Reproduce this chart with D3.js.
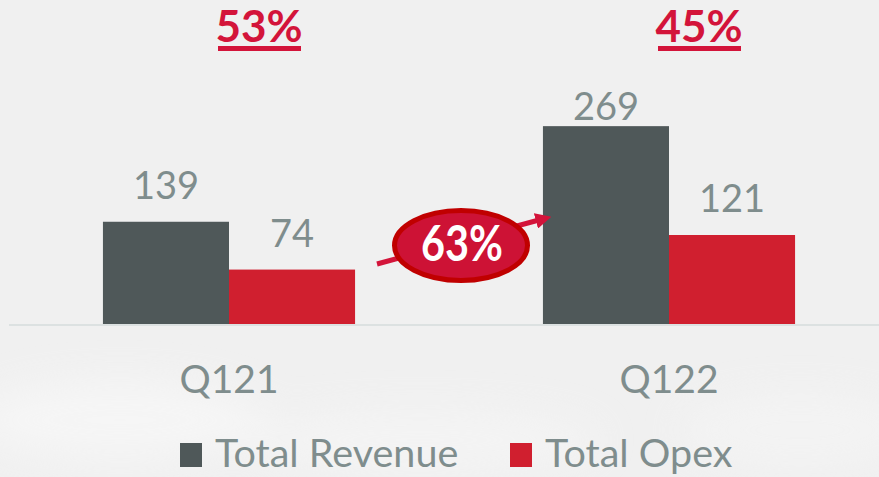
<!DOCTYPE html>
<html>
<head>
<meta charset="utf-8">
<script src="https://cdn.jsdelivr.net/npm/d3@7"></script>
<style>
  html, body { margin: 0; padding: 0; background: #f0f0f0; }
  svg { display: block; font-family: Lato, "Open Sans", sans-serif; }
</style>
</head>
<body>
<svg id="chart" width="879" height="477"></svg>
<script>
// Quarterly revenue vs operating expense
const quarters = ["Q121", "Q122"];
const seriesNames = ["Total Revenue", "Total Opex"];
const revenue = [139, 269];
const opex = [74, 121];
const opexRatio = ["53%", "45%"];     // opex as share of revenue per quarter
const revenueGrowth = "63%";          // year-over-year revenue growth

const colors = { "Total Revenue": "#4f5859", "Total Opex": "#d01f2f" };
const textGray = "#7f8d8d";
const accentRed = "#d3143a";

const W = 879, H = 477;
const svg = d3.select("#chart");

svg.append("rect").attr("width", W).attr("height", H).attr("fill", "#f0f0f0");

// soft lighter haze near the bottom of the backdrop
const defs = svg.append("defs");
const blur = defs.append("filter").attr("id", "haze").attr("x", "-50%").attr("y", "-50%")
  .attr("width", "200%").attr("height", "200%");
blur.append("feGaussianBlur").attr("stdDeviation", 18);
const haze = svg.append("g").attr("filter", "url(#haze)").attr("opacity", 0.55);
haze.append("ellipse").attr("cx", 120).attr("cy", 420).attr("rx", 150).attr("ry", 40).attr("fill", "#fafafa");
haze.append("ellipse").attr("cx", 420).attr("cy", 440).attr("rx", 180).attr("ry", 30).attr("fill", "#f7f7f7");
haze.append("ellipse").attr("cx", 800).attr("cy", 430).attr("rx", 120).attr("ry", 35).attr("fill", "#f6f6f6");

const data = quarters.map((q, i) => ({
  quarter: q,
  values: [
    { name: seriesNames[0], value: revenue[i] },
    { name: seriesNames[1], value: opex[i] }
  ]
}));

const x0 = d3.scaleBand().domain(quarters).range([9, 889]).paddingInner(0.427).paddingOuter(0.2135);
const x1 = d3.scaleBand().domain(seriesNames).range([0, x0.bandwidth()]);
const y = d3.scaleLinear().domain([0, 300]).range([324, 324 - 300 * 0.7355]);

// bars
const groups = svg.append("g").selectAll("g").data(data).join("g")
  .attr("transform", d => `translate(${x0(d.quarter)},0)`);

groups.selectAll("rect").data(d => d.values).join("rect")
  .attr("x", d => x1(d.name))
  .attr("y", d => y(d.value))
  .attr("width", x1.bandwidth())
  .attr("height", d => y(0) - y(d.value))
  .attr("fill", d => colors[d.name]);

// value labels above bars (kept inside the plot area near the top)
groups.selectAll("text.val").data(d => d.values).join("text")
  .attr("class", "val")
  .attr("x", d => x1(d.name) + x1.bandwidth() / 2)
  .attr("y", d => Math.max(y(d.value) - 23, 120))
  .attr("text-anchor", "middle")
  .attr("font-size", 38)
  .attr("fill", textGray)
  .text(d => d.value);

// baseline
svg.append("line")
  .attr("x1", 9).attr("x2", W)
  .attr("y1", y(0) + 1).attr("y2", y(0) + 1)
  .attr("stroke", "#dce1e1").attr("stroke-width", 2);

// category axis labels
const xAxis = d3.axisBottom(x0).tickSize(0).tickPadding(0);
const axisG = svg.append("g").attr("transform", `translate(0,${y(0)})`).call(xAxis);
axisG.select(".domain").remove();
axisG.selectAll("text")
  .attr("y", 69).attr("dy", 0)
  .attr("font-family", "Lato, 'Open Sans', sans-serif")
  .attr("font-size", 39)
  .attr("fill", textGray);

// opex ratio headers (underlined)
const headers = svg.append("g").selectAll("g").data(quarters).join("g")
  .attr("transform", d => `translate(${x0(d) + x0.bandwidth() / 2 + 30},0)`);
headers.append("text")
  .attr("x", 0).attr("y", 42)
  .attr("text-anchor", "middle")
  .attr("font-size", 44)
  .attr("font-weight", 700)
  .attr("fill", accentRed)
  .text((d, i) => opexRatio[i]);
headers.append("rect")
  .attr("x", -41).attr("y", 46)
  .attr("width", 83).attr("height", 5)
  .attr("fill", accentRed);

// growth arrow with ellipse badge
const arrowColor = "#d3143a";
defs.append("marker")
  .attr("id", "arrowhead")
  .attr("viewBox", "0 0 10 10")
  .attr("refX", 2).attr("refY", 5)
  .attr("markerWidth", 3.2).attr("markerHeight", 3.2)
  .attr("orient", "auto")
  .append("path").attr("d", "M0,0 L10,5 L0,10 Z").attr("fill", arrowColor);

svg.append("line")
  .attr("x1", 377).attr("y1", 264)
  .attr("x2", 539).attr("y2", 220)
  .attr("stroke", arrowColor).attr("stroke-width", 5)
  .attr("marker-end", "url(#arrowhead)");

svg.append("ellipse")
  .attr("cx", 461).attr("cy", 245.5)
  .attr("rx", 66.5).attr("ry", 35)
  .attr("fill", "#cd1235")
  .attr("stroke", "#c00000").attr("stroke-width", 5);

svg.append("text")
  .attr("x", 462).attr("y", 261)
  .attr("text-anchor", "middle")
  .attr("font-size", 50)
  .attr("font-weight", 700)
  .attr("fill", "#ffffff")
  .attr("textLength", 82)
  .attr("lengthAdjust", "spacingAndGlyphs")
  .text(revenueGrowth);

// legend
const legendPos = [180, 510];
const legend = svg.append("g").selectAll("g").data(seriesNames).join("g")
  .attr("transform", (d, i) => `translate(${legendPos[i]},443)`);
legend.append("rect")
  .attr("width", 22).attr("height", 24)
  .attr("fill", d => colors[d]);
legend.append("text")
  .attr("x", 35).attr("y", 24)
  .attr("font-size", 39.5)
  .attr("fill", textGray)
  .text(d => d);
</script>
</body>
</html>
